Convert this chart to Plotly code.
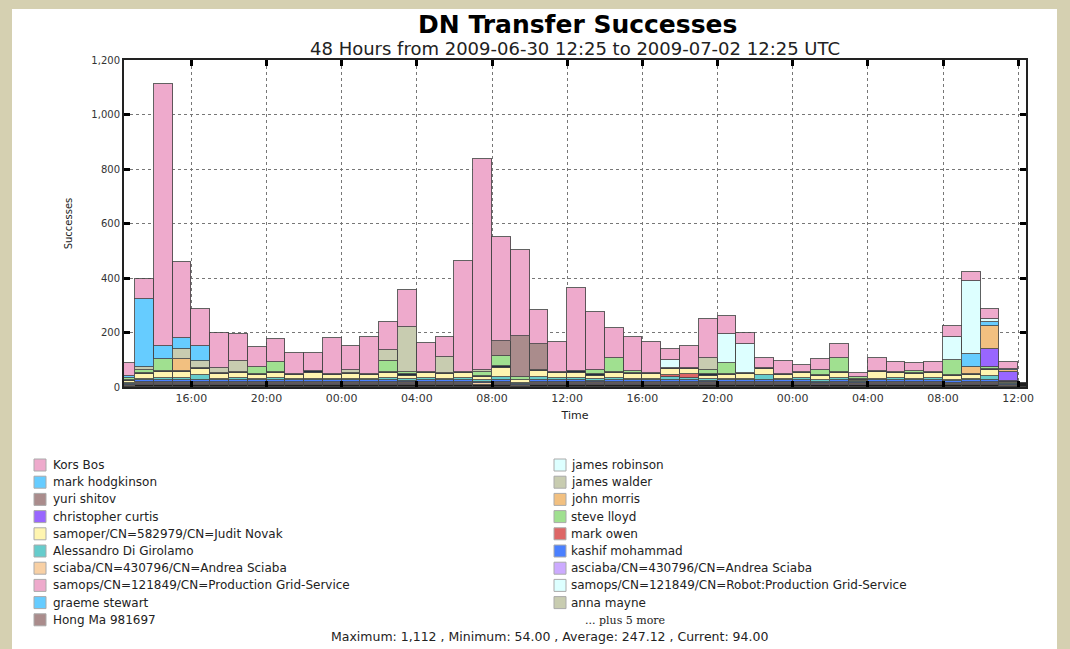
import plotly.graph_objects as go
import pandas as pd

# ---------------- data (hourly bins, 2009-06-30 12:00 .. 2009-07-02 12:00) ----------------
bin_starts = pd.date_range("2009-06-30 12:00", periods=49, freq="h")

kors_bos = [49, 73, 960, 279, 136, 131, 98, 72, 83, 77, 69, 131,
            88, 136, 104, 136, 107, 74, 408, 775, 382, 312, 126, 112,
            308, 213, 111, 124, 114, 43, 81, 141, 67, 43, 37, 48,
            28, 42, 49, 15, 49, 38, 29, 38, 39, 34, 37, 26, 0]
james_robinson = [0, 0, 0, 0, 0, 0, 0, 0, 0, 0, 0, 0,
                  0, 0, 0, 0, 0, 0, 0, 0, 0, 0, 0, 0,
                  0, 0, 0, 0, 0, 29, 0, 0, 107, 104, 0, 0,
                  0, 0, 0, 0, 0, 0, 0, 0, 86, 267, 12, 0, 0]
yuri_shitov = [0, 0, 0, 0, 0, 0, 0, 0, 0, 0, 0, 0,
               0, 0, 0, 0, 0, 0, 0, 0, 53, 152, 92, 0,
               0, 0, 0, 0, 0, 0, 0, 0, 0, 0, 0, 0,
               0, 0, 0, 0, 0, 0, 0, 0, 0, 0, 0, 0, 0]
mark_hodgkinson = [6, 248, 49, 43, 55, 0, 0, 0, 0, 0, 0, 0,
                   0, 0, 0, 0, 0, 0, 0, 0, 0, 0, 0, 0,
                   0, 0, 0, 0, 0, 0, 0, 0, 0, 0, 0, 0,
                   0, 0, 0, 0, 0, 0, 0, 0, 0, 48, 15, 5, 0]
james_walder = [0, 10, 0, 37, 28, 16, 42, 0, 0, 0, 0, 0,
                12, 0, 38, 167, 0, 59, 0, 8, 0, 0, 0, 0,
                0, 0, 0, 0, 0, 0, 0, 43, 0, 0, 0, 0,
                0, 0, 0, 0, 0, 0, 0, 0, 0, 0, 0, 0, 0]
john_morris = [0, 0, 0, 43, 0, 0, 0, 0, 0, 0, 0, 0,
               0, 0, 0, 0, 0, 0, 0, 0, 0, 0, 0, 0,
               0, 0, 0, 0, 0, 0, 0, 0, 0, 0, 0, 0,
               0, 0, 0, 0, 0, 0, 0, 0, 0, 26, 82, 6, 0]
christopher_curtis = [0, 0, 0, 0, 0, 0, 0, 0, 0, 0, 0, 0,
                      0, 0, 0, 0, 0, 0, 0, 0, 0, 0, 0, 0,
                      0, 0, 0, 0, 0, 0, 0, 0, 0, 0, 0, 0,
                      0, 0, 0, 0, 0, 0, 0, 0, 0, 0, 67, 34, 0]
steve_lloyd = [8, 12, 45, 0, 0, 0, 0, 25, 37, 0, 0, 0,
               0, 0, 42, 8, 0, 0, 0, 13, 38, 10, 0, 0,
               0, 18, 51, 10, 0, 0, 0, 18, 40, 0, 0, 0,
               0, 18, 53, 8, 0, 0, 8, 0, 53, 0, 8, 0, 0]
other_navy = [3, 4, 4, 4, 4, 4, 4, 4, 4, 4, 4, 4,
              4, 4, 4, 4, 4, 4, 4, 4, 9, 3, 4, 4,
              4, 4, 4, 4, 4, 4, 4, 4, 4, 4, 4, 4,
              4, 4, 4, 2, 4, 4, 4, 4, 4, 4, 4, 2, 0]
samoper = [8, 17, 20, 20, 22, 17, 18, 15, 18, 15, 22, 15,
           17, 15, 18, 14, 18, 16, 18, 14, 30, 8, 25, 18,
           19, 14, 19, 16, 17, 20, 19, 14, 15, 17, 22, 15,
           18, 14, 18, 5, 23, 18, 16, 18, 14, 15, 20, 5, 0]
mark_owen = [0, 0, 0, 0, 0, 0, 0, 0, 0, 0, 0, 0,
             0, 0, 0, 0, 0, 0, 0, 0, 0, 0, 0, 0,
             0, 0, 0, 0, 0, 10, 12, 0, 0, 0, 0, 0,
             0, 0, 0, 0, 0, 0, 0, 0, 0, 0, 0, 0, 0]
alessandro = [3, 7, 10, 10, 19, 7, 9, 6, 9, 6, 7, 6,
              7, 6, 9, 5, 9, 7, 8, 5, 14, 5, 11, 8,
              10, 5, 9, 6, 7, 11, 10, 5, 5, 7, 20, 6,
              8, 5, 8, 3, 7, 8, 6, 8, 5, 5, 18, 4, 0]
kashif = [4, 6, 6, 6, 6, 6, 6, 6, 6, 6, 6, 6,
          6, 6, 6, 6, 6, 6, 6, 6, 6, 5, 6, 6,
          6, 6, 6, 6, 6, 6, 6, 6, 6, 6, 6, 6,
          6, 6, 6, 5, 6, 6, 6, 6, 6, 6, 6, 3, 0]
sciaba = [3, 4, 4, 4, 4, 4, 4, 4, 4, 4, 4, 4,
          4, 4, 4, 4, 4, 4, 4, 4, 4, 3, 4, 4,
          4, 4, 4, 4, 4, 4, 4, 4, 4, 4, 4, 4,
          4, 4, 4, 4, 4, 4, 4, 4, 4, 4, 4, 2, 0]
asciaba = [1, 2, 2, 2, 2, 2, 2, 2, 2, 2, 2, 2,
           2, 2, 2, 2, 2, 2, 2, 2, 2, 0, 2, 2,
           2, 2, 2, 2, 2, 2, 2, 2, 2, 2, 2, 2,
           2, 2, 2, 2, 2, 2, 2, 2, 2, 2, 2, 0, 0]
hong_ma = [0, 5, 5, 5, 5, 5, 5, 5, 5, 5, 5, 5,
           5, 5, 5, 4, 5, 5, 5, 0, 5, 0, 5, 5,
           5, 4, 5, 5, 5, 5, 5, 4, 5, 5, 5, 5,
           5, 1, 5, 1, 5, 5, 5, 5, 3, 5, 5, 0, 0]
other_black = [4, 7, 7, 7, 7, 7, 7, 7, 7, 7, 7, 7,
               7, 7, 7, 7, 7, 7, 7, 7, 7, 3, 7, 7,
               7, 7, 7, 7, 7, 7, 7, 7, 7, 7, 7, 7,
               7, 7, 7, 7, 7, 7, 7, 7, 7, 7, 7, 5, 15]

# legend labels (two columns) and colours
legend_left = ["Kors Bos", "mark hodgkinson", "yuri shitov", "christopher curtis",
               "samoper/CN=582979/CN=Judit Novak", "Alessandro Di Girolamo",
               "sciaba/CN=430796/CN=Andrea Sciaba", "samops/CN=121849/CN=Production Grid-Service",
               "graeme stewart", "Hong Ma 981697"]
legend_left_colors = ["#eeaacc", "#66ccff", "#aa8c8c", "#9966ff", "#fff5b0", "#66cccc",
                      "#f8d0a4", "#eeaacc", "#66ccff", "#aa8c8c"]
legend_right = ["james robinson", "james walder", "john morris", "steve lloyd", "mark owen",
                "kashif mohammad", "asciaba/CN=430796/CN=Andrea Sciaba",
                "samops/CN=121849/CN=Robot:Production Grid-Service", "anna mayne"]
legend_right_colors = ["#ddffff", "#c8ccb0", "#f2c080", "#a0e090", "#dd6666", "#4a80ff",
                       "#ccaaff", "#ddffff", "#c8ccb0"]

title_text = "DN Transfer Successes"
subtitle_text = "48 Hours from 2009-06-30 12:25 to 2009-07-02 12:25 UTC"
stats_text = "Maximum: 1,112 , Minimum: 54.00 , Average: 247.12 , Current: 94.00"

# ---------------- figure ----------------
W, H = 1070, 649
L, R, T, B = 124, 1026, 60, 387
BEIGE = "#d5d0b1"


def px(x):
    return (x - L) / (R - L)


def py(y):
    return (B - y) / (B - T)


stack = [
    ("other", other_black, "#1e1e1e"),
    ("Hong Ma 981697", hong_ma, "#a08c88"),
    ("asciaba/CN=430796/CN=Andrea Sciaba", asciaba, "#ccaaff"),
    ("sciaba/CN=430796/CN=Andrea Sciaba", sciaba, "#f8d0a4"),
    ("kashif mohammad", kashif, "#4a80ff"),
    ("Alessandro Di Girolamo", alessandro, "#66cccc"),
    ("mark owen", mark_owen, "#dd6666"),
    ("samoper/CN=582979/CN=Judit Novak", samoper, "#fff5b0"),
    ("other2", other_navy, "#22303e"),
    ("steve lloyd", steve_lloyd, "#a0e090"),
    ("christopher curtis", christopher_curtis, "#9966ff"),
    ("john morris", john_morris, "#f2c080"),
    ("james walder", james_walder, "#c8ccb0"),
    ("mark hodgkinson", mark_hodgkinson, "#66ccff"),
    ("yuri shitov", yuri_shitov, "#aa8c8c"),
    ("james robinson", james_robinson, "#ddffff"),
    ("Kors Bos", kors_bos, "#eeaacc"),
]

centers = bin_starts + pd.Timedelta(minutes=30)
fig = go.Figure()
for name, vals, col in stack:
    fig.add_trace(go.Bar(
        x=centers, y=vals, name=name, width=3600000,
        marker=dict(color=col, line=dict(color="rgba(70,70,70,0.85)", width=1)),
        showlegend=False,
    ))

FONT = "DejaVu Sans"
fig.update_layout(
    width=W, height=H,
    margin=dict(l=L, r=W - R, t=T, b=H - B),
    paper_bgcolor=BEIGE,
    plot_bgcolor="white",
    barmode="stack", bargap=0,
    font=dict(family=FONT, color="#222"),
    xaxis=dict(
        type="date",
        range=["2009-06-30 12:25", "2009-07-02 12:25"],
        tick0="2009-06-30 00:00", dtick=4 * 3600000, tickformat="%H:%M",
        showgrid=True, gridcolor="#777", griddash="dot", gridwidth=1,
        ticks="inside", ticklen=6, tickwidth=3, tickcolor="black",
        showline=True, linecolor="#222", linewidth=2, mirror="ticks",
        tickfont=dict(size=11, color="#333"),
        title=dict(text="Time", font=dict(size=11, color="#222"), standoff=7),
        zeroline=False,
    ),
    yaxis=dict(
        range=[0, 1200], dtick=200, tickformat=",d",
        showgrid=True, gridcolor="#777", griddash="dot", gridwidth=1,
        ticks="inside", ticklen=6, tickwidth=3, tickcolor="black",
        showline=True, linecolor="#222", linewidth=2, mirror="ticks",
        tickfont=dict(size=10, color="#333"),
        title=dict(text="Successes", font=dict(size=10, color="#222"), standoff=17),
        zeroline=False,
    ),
)

shapes = [dict(type="rect", xref="paper", yref="paper", layer="below",
               x0=px(12), x1=px(1057), y0=py(H + 5), y1=py(9),
               fillcolor="white", line=dict(width=0))]
annotations = [
    dict(text="<b>" + title_text + "</b>", x=px(577), y=py(25), xref="paper", yref="paper",
         showarrow=False, xanchor="center", yanchor="middle",
         font=dict(family=FONT, size=25, color="black")),
    dict(text=subtitle_text, x=px(575), y=py(48), xref="paper", yref="paper",
         showarrow=False, xanchor="center", yanchor="middle",
         font=dict(family=FONT, size=18, color="#222")),
    dict(text=stats_text, x=px(549), y=py(636), xref="paper", yref="paper",
         showarrow=False, xanchor="center", yanchor="middle",
         font=dict(family=FONT, size=12.5, color="#222")),
    dict(text="... plus 5 more", x=px(583), y=py(620), xref="paper", yref="paper",
         showarrow=False, xanchor="left", yanchor="middle",
         font=dict(family="DejaVu Serif", size=11, color="#222")),
]

ROW0, DY = 465, 17.2
for i, (lab, col) in enumerate(zip(legend_left, legend_left_colors)):
    yc = ROW0 + DY * i
    shapes.append(dict(type="rect", xref="paper", yref="paper",
                       x0=px(34), x1=px(46), y0=py(yc + 6), y1=py(yc - 6),
                       fillcolor=col, line=dict(color="#aaaaaa", width=1)))
    annotations.append(dict(text=lab, x=px(51), y=py(yc), xref="paper", yref="paper",
                            showarrow=False, xanchor="left", yanchor="middle",
                            font=dict(family=FONT, size=12, color="#222")))
for i, (lab, col) in enumerate(zip(legend_right, legend_right_colors)):
    yc = ROW0 + DY * i
    shapes.append(dict(type="rect", xref="paper", yref="paper",
                       x0=px(554), x1=px(566), y0=py(yc + 6), y1=py(yc - 6),
                       fillcolor=col, line=dict(color="#aaaaaa", width=1)))
    annotations.append(dict(text=lab, x=px(569), y=py(yc), xref="paper", yref="paper",
                            showarrow=False, xanchor="left", yanchor="middle",
                            font=dict(family=FONT, size=12, color="#222")))

fig.update_layout(shapes=shapes, annotations=annotations)
fig.write_html(
    "out.html",
    config={"displayModeBar": False},
    post_script="document.body.style.margin='0';document.body.style.background='" + BEIGE + "';",
)
